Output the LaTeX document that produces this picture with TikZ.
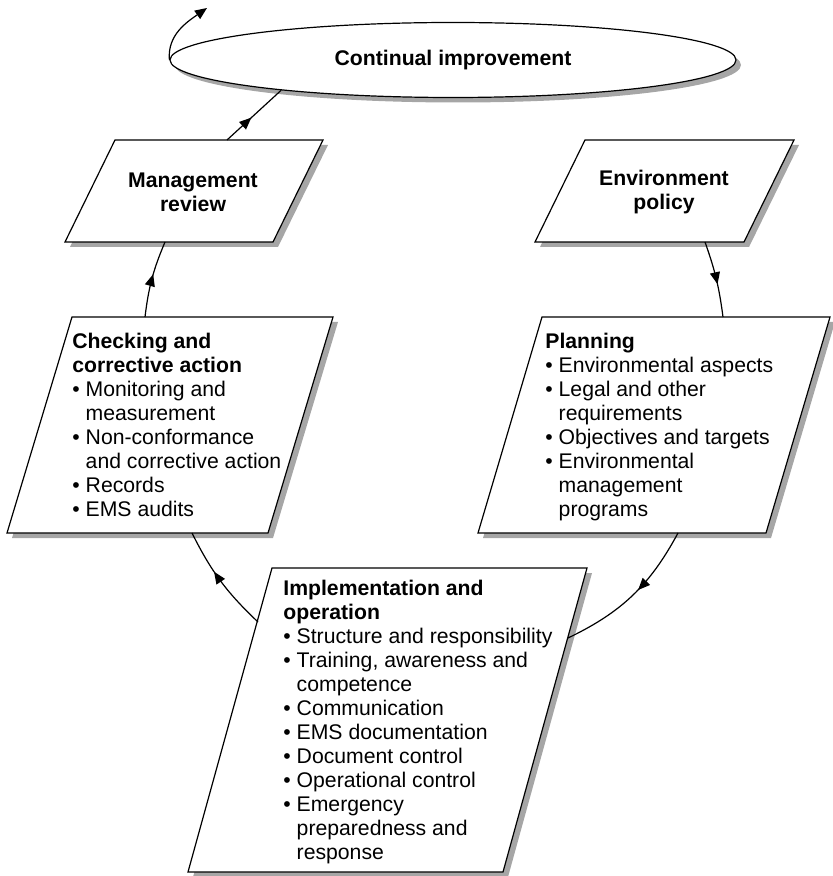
\documentclass[tikz,border=0pt]{standalone}
\usepackage{fontspec}
\setmainfont{Liberation Sans}
\usetikzlibrary{shapes.geometric,arrows.meta,decorations.markings,shadows}

\newcommand{\bul}{\textbullet\ }
\newcommand{\cont}{\phantom{\textbullet\ }}

\tikzset{
  box/.style={draw, line width=0.6pt, fill=white,
    drop shadow={shadow xshift=2.5pt, shadow yshift=-2.5pt, opacity=1, fill=black!35}},
  txt/.style={anchor=north west, inner sep=0pt, align=left, font=\fontsize{10.6}{12}\selectfont},
  ttl/.style={inner sep=0pt, align=center, font=\fontsize{10.6}{12}\selectfont\bfseries},
  flow/.style={line width=0.6pt, postaction={decorate},
    decoration={markings, mark=at position #1 with {\arrow{Triangle[length=6pt,width=5pt]}}}},
  flow/.default=0.5
}

\begin{document}
\begin{tikzpicture}[x=0.5pt,y=0.5pt]
\useasboundingbox (0,0) rectangle (832,-876);

% continual improvement
\node[box, ellipse, minimum width=283pt, minimum height=37.5pt, inner sep=0pt, ttl] (ci) at (453,-60) {Continual improvement};
\coordinate (loop) at (207,-8);

% management review / environment policy
\draw[box] (115,-140) -- (323,-140) -- (273,-242) -- (65,-242) -- cycle;
\node[ttl] (mr) at (193,-192) {Management\\review};
\draw[box] (585,-140) -- (794,-140) -- (744,-242) -- (535,-242) -- cycle;
\node[ttl] (ep) at (664,-192) {Environment\\policy};

% checking / planning
\draw[box] (72,-317) -- (333,-317) -- (268,-533) -- (7,-533) -- cycle;
\node[txt] (ck) at (72,-332.5) {\textbf{Checking and}\\
  \textbf{corrective action}\\
  \bul Monitoring and\\
  \cont measurement\\
  \bul Non-conformance\\
  \cont and corrective action\\
  \bul Records\\
  \bul EMS audits};
\draw[box] (542,-317) -- (830,-317) -- (766,-533) -- (478,-533) -- cycle;
\node[txt] (pl) at (545,-332.5) {\textbf{Planning}\\
  \bul Environmental aspects\\
  \bul Legal and other\\
  \cont requirements\\
  \bul Objectives and targets\\
  \bul Environmental\\
  \cont management\\
  \cont programs};

% implementation
\draw[box] (272,-568) -- (587,-568) -- (503,-872) -- (188,-872) -- cycle;
\node[txt] (im) at (283,-579.5) {\textbf{Implementation and}\\
  \textbf{operation}\\
  \bul Structure and responsibility\\
  \bul Training, awareness and\\
  \cont competence\\
  \bul Communication\\
  \bul EMS documentation\\
  \bul Document control\\
  \bul Operational control\\
  \bul Emergency\\
  \cont preparedness and\\
  \cont response};

% connector ends
\coordinate (mr-n) at (227,-140);
\coordinate (mr-s) at (165,-242);
\coordinate (ep-s) at (705,-242);
\coordinate (ck-n) at (145,-317);
\coordinate (ck-s) at (192,-533);
\coordinate (pl-n) at (723,-317);
\coordinate (pl-s) at (678,-533);
\coordinate (im-w) at (258,-622);
\coordinate (im-e) at (568,-638);

% cycle
\draw[flow=0.45] (mr-n) -- (ci.190);
\draw[line width=0.6pt,-{Triangle[length=6pt,width=5pt]}] (ci.west) to[out=95,in=215] (loop);
\draw[flow=0.56] (ck-n) to[bend left=8] (mr-s);
\draw[flow=0.57] (ep-s) to[bend left=6] (pl-n);
\draw[flow=0.45] (pl-s) to[bend left=18] (im-e);
\draw[flow=0.6] (im-w) to[bend left=10] (ck-s);
\end{tikzpicture}
\end{document}
